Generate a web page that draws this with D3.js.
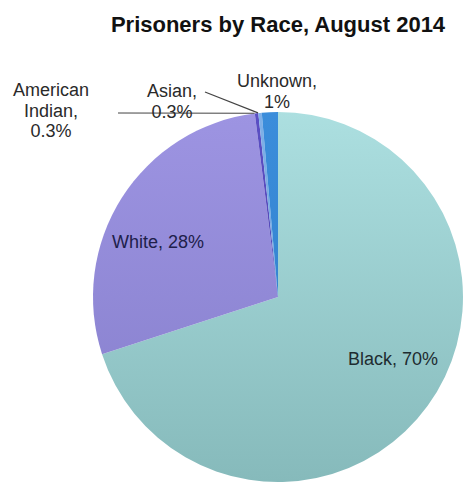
<!DOCTYPE html>
<html><head><meta charset="utf-8">
<script src="https://cdn.jsdelivr.net/npm/d3@7"></script>
<style>body{margin:0;background:#fff}svg{display:block}</style>
</head><body>
<script>
const categories = ["Black", "White", "American Indian", "Asian", "Unknown"];
const values = [70, 28, 0.3, 0.3, 1.4];
const labels = ["Black, 70%", "White, 28%", "American\nIndian,\n0.3%", "Asian,\n0.3%", "Unknown,\n1%"];
const colorsTop = ["#acdfe0", "#9d94e2", "#5b4fc4", "#7fb0e8", "#3b8ddb"];
const colorsBot = ["#86babb", "#857ecb", "#4a40a8", "#6a9ad0", "#2f7cc8"];

const W = 467, H = 487, cx = 278, cy = 297, R = 185;
const svg = d3.select("body").append("svg").attr("width", W).attr("height", H);
const defs = svg.append("defs");
categories.forEach((c, i) => {
  const g = defs.append("linearGradient").attr("id", "g" + i)
    .attr("gradientUnits", "userSpaceOnUse")
    .attr("x1", 0).attr("y1", -R).attr("x2", 0).attr("y2", R);
  g.append("stop").attr("offset", "0").attr("stop-color", colorsTop[i]);
  g.append("stop").attr("offset", "1").attr("stop-color", colorsBot[i]);
});

svg.append("text").attr("x", 278).attr("y", 32).attr("text-anchor", "middle")
  .attr("font-family", "Liberation Sans, Arial, sans-serif").attr("font-weight", "bold")
  .attr("font-size", 22).attr("fill", "#111").text("Prisoners by Race, August 2014");

const pie = d3.pie().sort(null).value(d => d)(values);
const arc = d3.arc().innerRadius(0).outerRadius(R);
const g = svg.append("g").attr("transform", `translate(${cx},${cy})`);
g.selectAll("path").data(pie).join("path")
  .attr("d", arc)
  .attr("fill", (d, i) => `url(#g${i})`)
  .attr("stroke", "none");

// leader lines for small slices
const lineCol = "#444";
const edge = i => { const a = (pie[i].startAngle + pie[i].endAngle) / 2; return [cx + R * Math.sin(a), cy - R * Math.cos(a)]; };
const eAI = edge(2), eAs = edge(3);
svg.append("line").attr("x1", 118).attr("y1", 113).attr("x2", eAI[0] - 2).attr("y2", eAI[1])
  .attr("stroke", lineCol).attr("stroke-width", 1.2);
svg.append("line").attr("x1", 205).attr("y1", 92).attr("x2", eAs[0] - 2).attr("y2", eAs[1])
  .attr("stroke", lineCol).attr("stroke-width", 1.2);

const labelPos = [[393, 365], [158, 248], [51, 96], [172, 97], [277, 87]];
const tcol = ["#1e2c30", "#20204a", "#2a2a2a", "#2a2a2a", "#2a2a2a"];
labels.forEach((t, i) => {
  const lines = t.split("\n");
  const tx = svg.append("text").attr("text-anchor", "middle")
    .attr("font-family", "Liberation Sans, Arial, sans-serif").attr("font-size", 18)
    .attr("fill", tcol[i]);
  lines.forEach((l, j) => tx.append("tspan").attr("x", labelPos[i][0]).attr("y", labelPos[i][1] + j * 20.5).text(l));
});
</script>
</body></html>
